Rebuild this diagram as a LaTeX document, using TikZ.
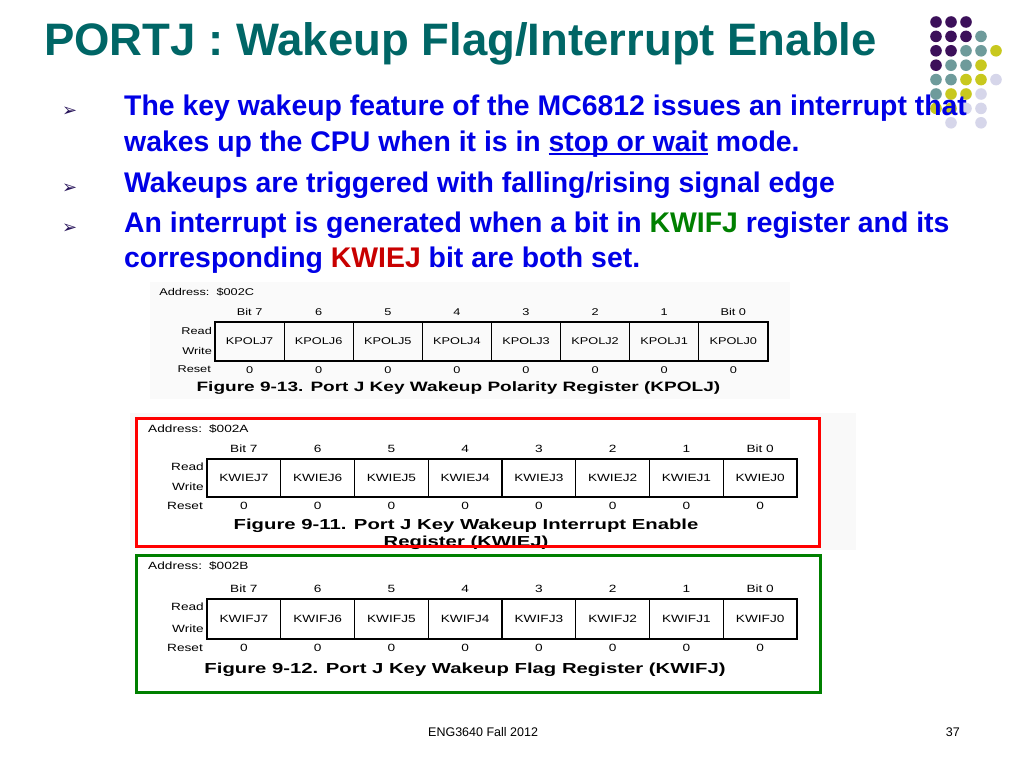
\documentclass[tikz,border=0pt]{standalone}
\usepackage{fontspec}
\setmainfont{Liberation Sans}
\newfontfamily\symfont{DejaVu Sans}
\newfontfamily\regfont[FakeStretch=1.3]{Liberation Sans}
\newfontfamily\capfont[FakeStretch=1.4]{Liberation Sans}
\usetikzlibrary{positioning, calc}

\definecolor{titleteal}{RGB}{0,102,102}
\definecolor{bodyblue}{RGB}{0,0,230}
\definecolor{flaggreen}{RGB}{0,128,0}
\definecolor{enablered}{RGB}{200,0,0}
\definecolor{bulletnavy}{RGB}{40,20,90}
\definecolor{dotpurple}{RGB}{60,16,90}
\definecolor{dotteal}{RGB}{110,155,155}
\definecolor{dotyellow}{RGB}{200,200,30}
\definecolor{dotlilac}{RGB}{214,214,234}

\newcommand{\ulphrase}[1]{\setbox0\hbox{#1}\rlap{\rule[-4pt]{\wd0}{2pt}}\box0\relax}

\begin{document}
\begin{tikzpicture}[x=1pt, y=-1pt, >=stealth]

    % Define the styles for the nodes
    \tikzstyle{cell} = [draw, line width=1.3pt, inner sep=0, outer sep=0, font=\regfont\fontsize{10.5}{12}\selectfont]
    \tikzstyle{lbl} = [inner sep=0, font=\regfont\fontsize{10.5}{12}\selectfont]
    \tikzstyle{small} = [font=\regfont\fontsize{9.8}{11}\selectfont]
    \tikzstyle{caption} = [inner sep=0, align=center, font=\capfont\bfseries\fontsize{14.5}{17}\selectfont]
    \tikzstyle{line} = [anchor=base west, inner sep=0, text=bodyblue, font=\bfseries\fontsize{28.4}{32}\selectfont]
    \tikzstyle{bullet} = [anchor=base west, inner sep=0, text=bulletnavy, font=\symfont\fontsize{18}{20}\selectfont]

    \useasboundingbox (0,0) rectangle (1024,768);

    % Corner dots
    \foreach \r/\c in {0/0,0/1,0/2, 1/0,1/1,1/2,1/3, 2/0,2/1,2/2,2/3,2/4, 3/0,3/1,3/2,3/3,
                       4/0,4/1,4/2,4/3,4/4, 5/0,5/1,5/2,5/3, 6/0,6/1,6/2,6/3, 7/1,7/3} {
        \pgfmathtruncatemacro\s{\r+\c}
        \ifnum\s<4 \def\dc{dotpurple}\else\ifnum\s<6 \def\dc{dotteal}\else\ifnum\s<8 \def\dc{dotyellow}\else\def\dc{dotlilac}\fi\fi\fi
        \fill[\dc] (936+15*\c, 22+14.4*\r) circle [radius=5.8pt];
    }

    % Title and bullets
    \node[anchor=base west, inner sep=0, text=titleteal, font=\bfseries\fontsize{45.5}{50}\selectfont] (title) at (44,56) {PORTJ : Wakeup Flag/Interrupt Enable};

    \node[bullet] (b1) at (62,116) {➢};
    \node[bullet] (b2) at (62,193) {➢};
    \node[bullet] (b3) at (62,233) {➢};

    \node[line] (t1) at (124,115) {The key wakeup feature of the MC6812 issues an interrupt that};
    \node[line] (t2) at (124,151) {wakes up the CPU when it is in \ulphrase{stop or wait} mode.};
    \node[line] (t3) at (124,192) {Wakeups are triggered with falling/rising signal edge};
    \node[line] (t4) at (124,232) {An interrupt is generated when a bit in \textcolor{flaggreen}{KWIFJ} register and its};
    \node[line] (t5) at (124,267) {corresponding \textcolor{enablered}{KWIEJ} bit are both set.};

    % Register KPOLJ
    \fill[gray!4] (150,282) rectangle (790,399);
    \node[cell, small, minimum width=69.1pt, minimum height=39pt] (pol7) at (249.6,341.5) {KPOLJ7};
    \foreach \b/\p in {6/7,5/6,4/5,3/4,2/3,1/2,0/1}
        \node[cell, small, minimum width=69.1pt, minimum height=39pt, right=0pt of pol\p] (pol\b) {KPOLJ\b};
    \foreach \b/\t in {7/Bit 7,6/6,5/5,4/4,3/3,2/2,1/1,0/Bit 0} {
        \node[lbl, small, above=6pt of pol\b] {\t};
        \node[lbl, small, below=5pt of pol\b] {0};
    }
    \node[lbl, small, anchor=west] (poladdr) at ($(pol7.north west)+(-56,-30)$) {Address:\hspace{7pt}\$002C};
    \node[lbl, small, below left=5pt and 3pt of pol7.north west] {Read};
    \node[lbl, small, above left=6pt and 3pt of pol7.south west] {Write};
    \node[lbl, small, below left=5pt and 4pt of pol7.south west] {Reset};
    \node[caption, font=\capfont\bfseries\fontsize{13.6}{16}\selectfont] (polcap) at ($(pol4.south east)+(-33,27)$) {Figure 9-13. Port J Key Wakeup Polarity Register (KPOLJ)};

    % Register KWIEJ
    \fill[gray!5] (130,413) rectangle (856,550);
    \fill[white] (136,418) rectangle (819,546);
    \node[cell, minimum width=73.75pt, minimum height=38pt] (ie7) at (243.9,478) {KWIEJ7};
    \foreach \b/\p in {6/7,5/6,4/5,3/4,2/3,1/2,0/1}
        \node[cell, minimum width=73.75pt, minimum height=38pt, right=0pt of ie\p] (ie\b) {KWIEJ\b};
    \foreach \b/\t in {7/Bit 7,6/6,5/5,4/4,3/3,2/2,1/1,0/Bit 0} {
        \node[lbl, above=6pt of ie\b] {\t};
        \node[lbl, below=5pt of ie\b] {0};
    }
    \node[lbl, anchor=west] (ieaddr) at ($(ie7.north west)+(-59,-30)$) {Address:\hspace{7pt}\$002A};
    \node[lbl, below left=4pt and 3pt of ie7.north west] {Read};
    \node[lbl, above left=6pt and 3pt of ie7.south west] {Write};
    \node[lbl, below left=5pt and 4pt of ie7.south west] {Reset};
    \node[caption] (iecap) at ($(ie4.south east)+(-36,37.5)$) {Figure 9-11. Port J Key Wakeup Interrupt Enable\\Register (KWIEJ)};
    \draw[red, line width=3pt] (136,418) rectangle (819,546);

    % Register KWIFJ
    \node[cell, minimum width=73.75pt, minimum height=40pt] (if7) at (243.9,619) {KWIFJ7};
    \foreach \b/\p in {6/7,5/6,4/5,3/4,2/3,1/2,0/1}
        \node[cell, minimum width=73.75pt, minimum height=40pt, right=0pt of if\p] (if\b) {KWIFJ\b};
    \foreach \b/\t in {7/Bit 7,6/6,5/5,4/4,3/3,2/2,1/1,0/Bit 0} {
        \node[lbl, above=6pt of if\b] {\t};
        \node[lbl, below=5pt of if\b] {0};
    }
    \node[lbl, anchor=west] (ifaddr) at ($(if7.north west)+(-59,-33)$) {Address:\hspace{7pt}\$002B};
    \node[lbl, below left=4pt and 3pt of if7.north west] {Read};
    \node[lbl, above left=6pt and 3pt of if7.south west] {Write};
    \node[lbl, below left=5pt and 4pt of if7.south west] {Reset};
    \node[caption] (ifcap) at ($(if4.south east)+(-37,31)$) {Figure 9-12. Port J Key Wakeup Flag Register (KWIFJ)};
    \draw[flaggreen, line width=3pt] (136,555) rectangle (820,692);

    % Footer
    \node[anchor=base west, inner sep=0, font=\fontsize{12.5}{14}\selectfont] (foot) at (428,736) {ENG3640 Fall 2012};
    \node[anchor=base east, inner sep=0, font=\fontsize{12.5}{14}\selectfont] (page) at (960,736) {37};

\end{tikzpicture}
\end{document}
